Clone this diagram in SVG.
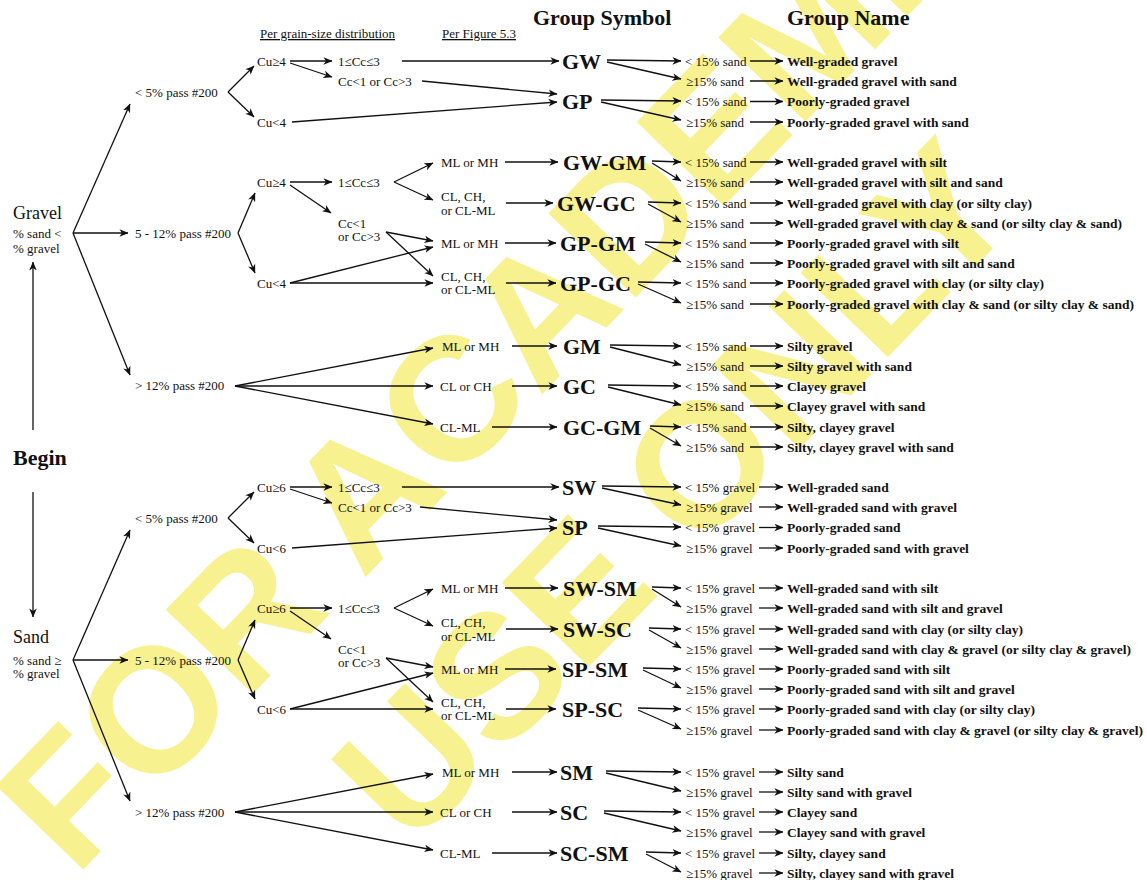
<svg xmlns="http://www.w3.org/2000/svg" width="1147" height="880" viewBox="0 0 1147 880">
  <defs>
    <marker id="ah" viewBox="0 0 10 10" refX="9.5" refY="5" markerWidth="9" markerHeight="9" markerUnits="userSpaceOnUse" orient="auto">
      <path d="M0,0.8 L10,5 L0,9.2 L2.8,5 z" fill="#111"/>
    </marker>
    <style>
      .t { font-family: "Liberation Serif", "Times New Roman", serif; font-size: 13px; fill: #111; }
      .u { text-decoration: underline; }
      .n { font-family: "Liberation Serif", "Times New Roman", serif; font-size: 13.5px; font-weight: bold; fill: #111; }
      .sym { font-family: "Liberation Serif", "Times New Roman", serif; font-size: 22px; font-weight: bold; fill: #111; }
      .hd { font-family: "Liberation Serif", "Times New Roman", serif; font-size: 22px; font-weight: bold; fill: #111; }
      .root { font-family: "Liberation Serif", "Times New Roman", serif; font-size: 18px; fill: #111; }
      .wm { font-family: "Liberation Sans", Arial, sans-serif; font-size: 176px; font-weight: bold; fill: #f8f190; }
      #connectors line { stroke: #111; stroke-width: 1.3; fill: none; marker-end: url(#ah); }
    </style>
  </defs>

  <rect width="1147" height="880" fill="#ffffff"/>

  <!-- watermark -->
  <g id="watermark">
    <text class="wm" transform="translate(75,878) rotate(-46)">FOR ACADEMIC</text>
    <text class="wm" transform="translate(411,851) rotate(-46)">USE ONLY</text>
  </g>

  <!-- column headers -->
  <g id="headers">
    <text class="t u" x="260" y="38">Per grain-size distribution</text>
    <text class="t u" x="442" y="38">Per Figure 5.3</text>
    <text class="hd" x="533" y="25">Group Symbol</text>
    <text class="hd" x="787" y="25">Group Name</text>
  </g>

  <!-- root and coarse fraction -->
  <g id="begin"><text class="hd" x="13" y="465">Begin</text></g>
  <g id="gravel">
    <text class="root" x="13" y="219">Gravel</text>
    <text class="t" x="13" y="237.5">% sand &lt;</text>
    <text class="t" x="13" y="252.5">% gravel</text>
  </g>
  <g id="sand">
    <text class="root" x="13" y="643">Sand</text>
    <text class="t" x="13" y="664.5">% sand ≥</text>
    <text class="t" x="13" y="677.5">% gravel</text>
  </g>

  <!-- fines content -->
  <g id="g-fines-lt5"><text class="t" x="135" y="96.5">&lt; 5% pass #200</text></g>
  <g id="g-fines-5-12"><text class="t" x="135" y="237.5">5 - 12% pass #200</text></g>
  <g id="g-fines-gt12"><text class="t" x="135" y="389.5">&gt; 12% pass #200</text></g>
  <g id="s-fines-lt5"><text class="t" x="135" y="522.5">&lt; 5% pass #200</text></g>
  <g id="s-fines-5-12"><text class="t" x="135" y="664.5">5 - 12% pass #200</text></g>
  <g id="s-fines-gt12"><text class="t" x="135" y="816.5">&gt; 12% pass #200</text></g>

  <!-- gradation: gravel -->
  <g id="g1-cu-hi"><text class="t" x="257" y="65.5">Cu≥4</text></g>
  <g id="g1-cu-lo"><text class="t" x="257" y="126.5">Cu&lt;4</text></g>
  <g id="g1-cc-ok"><text class="t" x="338" y="65.5">1≤Cc≤3</text></g>
  <g id="g1-cc-no"><text class="t" x="338" y="85.5">Cc&lt;1 or Cc&gt;3</text></g>
  <g id="g2-cu-hi"><text class="t" x="257" y="186.5">Cu≥4</text></g>
  <g id="g2-cu-lo"><text class="t" x="257" y="287.5">Cu&lt;4</text></g>
  <g id="g2-cc-ok"><text class="t" x="338" y="186.5">1≤Cc≤3</text></g>
  <g id="g2-cc-no"><text class="t" x="338" y="227.5">Cc&lt;1</text><text class="t" x="338" y="240.5">or Cc&gt;3</text></g>

  <!-- gradation: sand -->
  <g id="s1-cu-hi"><text class="t" x="257" y="491.5">Cu≥6</text></g>
  <g id="s1-cu-lo"><text class="t" x="257" y="552.5">Cu&lt;6</text></g>
  <g id="s1-cc-ok"><text class="t" x="338" y="491.5">1≤Cc≤3</text></g>
  <g id="s1-cc-no"><text class="t" x="338" y="511.5">Cc&lt;1 or Cc&gt;3</text></g>
  <g id="s2-cu-hi"><text class="t" x="257" y="612.5">Cu≥6</text></g>
  <g id="s2-cu-lo"><text class="t" x="257" y="713.5">Cu&lt;6</text></g>
  <g id="s2-cc-ok"><text class="t" x="338" y="612.5">1≤Cc≤3</text></g>
  <g id="s2-cc-no"><text class="t" x="338" y="653.5">Cc&lt;1</text><text class="t" x="338" y="666.5">or Cc&gt;3</text></g>

  <!-- plasticity of fines -->
  <g id="g2-ml-a"><text class="t" x="441" y="166.5">ML or MH</text></g>
  <g id="g2-cl-a"><text class="t" x="441" y="201">CL, CH,</text><text class="t" x="441" y="214.5">or CL-ML</text></g>
  <g id="g2-ml-b"><text class="t" x="441" y="247.5">ML or MH</text></g>
  <g id="g2-cl-b"><text class="t" x="441" y="280.5">CL, CH,</text><text class="t" x="441" y="294">or CL-ML</text></g>
  <g id="g3-ml"><text class="t" x="442" y="350.5">ML or MH</text></g>
  <g id="g3-cl"><text class="t" x="440" y="390.5">CL or CH</text></g>
  <g id="g3-clml"><text class="t" x="440" y="431.5">CL-ML</text></g>
  <g id="s2-ml-a"><text class="t" x="441" y="592.5">ML or MH</text></g>
  <g id="s2-cl-a"><text class="t" x="441" y="627">CL, CH,</text><text class="t" x="441" y="640.5">or CL-ML</text></g>
  <g id="s2-ml-b"><text class="t" x="441" y="673.5">ML or MH</text></g>
  <g id="s2-cl-b"><text class="t" x="441" y="706.5">CL, CH,</text><text class="t" x="441" y="720">or CL-ML</text></g>
  <g id="s3-ml"><text class="t" x="442" y="776.5">ML or MH</text></g>
  <g id="s3-cl"><text class="t" x="440" y="816.5">CL or CH</text></g>
  <g id="s3-clml"><text class="t" x="440" y="857.5">CL-ML</text></g>

  <!-- group symbols -->
  <g id="sym-GW"><text class="sym" x="562" y="68.5">GW</text></g>
  <g id="sym-GP"><text class="sym" x="562" y="108.5">GP</text></g>
  <g id="sym-GW-GM"><text class="sym" x="563" y="169.5">GW-GM</text></g>
  <g id="sym-GW-GC"><text class="sym" x="557" y="210.5">GW-GC</text></g>
  <g id="sym-GP-GM"><text class="sym" x="560" y="250.5">GP-GM</text></g>
  <g id="sym-GP-GC"><text class="sym" x="560" y="290.5">GP-GC</text></g>
  <g id="sym-GM"><text class="sym" x="563" y="353.5">GM</text></g>
  <g id="sym-GC"><text class="sym" x="563" y="393.5">GC</text></g>
  <g id="sym-GC-GM"><text class="sym" x="563" y="434.5">GC-GM</text></g>
  <g id="sym-SW"><text class="sym" x="562" y="494.5">SW</text></g>
  <g id="sym-SP"><text class="sym" x="562" y="534.5">SP</text></g>
  <g id="sym-SW-SM"><text class="sym" x="563" y="595.5">SW-SM</text></g>
  <g id="sym-SW-SC"><text class="sym" x="563" y="636.5">SW-SC</text></g>
  <g id="sym-SP-SM"><text class="sym" x="562" y="676.5">SP-SM</text></g>
  <g id="sym-SP-SC"><text class="sym" x="562" y="716.5">SP-SC</text></g>
  <g id="sym-SM"><text class="sym" x="560" y="779.5">SM</text></g>
  <g id="sym-SC"><text class="sym" x="560" y="819.5">SC</text></g>
  <g id="sym-SC-SM"><text class="sym" x="560" y="860.5">SC-SM</text></g>

  <!-- group names: gravel -->
  <g id="name-g01"><text class="t" x="685" y="65.5">&lt; 15% sand</text><text class="n" x="787" y="65.5">Well-graded gravel</text></g>
  <g id="name-g02"><text class="t" x="686" y="85.5">≥15% sand</text><text class="n" x="787" y="85.5">Well-graded gravel with sand</text></g>
  <g id="name-g03"><text class="t" x="685" y="106">&lt; 15% sand</text><text class="n" x="787" y="106">Poorly-graded gravel</text></g>
  <g id="name-g04"><text class="t" x="686" y="126.5">≥15% sand</text><text class="n" x="787" y="126.5">Poorly-graded gravel with sand</text></g>
  <g id="name-g05"><text class="t" x="685" y="166.5">&lt; 15% sand</text><text class="n" x="787" y="166.5">Well-graded gravel with silt</text></g>
  <g id="name-g06"><text class="t" x="686" y="186.5">≥15% sand</text><text class="n" x="787" y="186.5">Well-graded gravel with silt and sand</text></g>
  <g id="name-g07"><text class="t" x="685" y="207.5">&lt; 15% sand</text><text class="n" x="787" y="207.5">Well-graded gravel with clay (or silty clay)</text></g>
  <g id="name-g08"><text class="t" x="686" y="227.5">≥15% sand</text><text class="n" x="787" y="227.5">Well-graded gravel with clay &amp; sand (or silty clay &amp; sand)</text></g>
  <g id="name-g09"><text class="t" x="685" y="247.5">&lt; 15% sand</text><text class="n" x="787" y="247.5">Poorly-graded gravel with silt</text></g>
  <g id="name-g10"><text class="t" x="686" y="267.5">≥15% sand</text><text class="n" x="787" y="267.5">Poorly-graded gravel with silt and sand</text></g>
  <g id="name-g11"><text class="t" x="685" y="287.5">&lt; 15% sand</text><text class="n" x="787" y="287.5">Poorly-graded gravel with clay (or silty clay)</text></g>
  <g id="name-g12"><text class="t" x="686" y="308.5">≥15% sand</text><text class="n" x="787" y="308.5">Poorly-graded gravel with clay &amp; sand (or silty clay &amp; sand)</text></g>
  <g id="name-g13"><text class="t" x="685" y="350.5">&lt; 15% sand</text><text class="n" x="787" y="350.5">Silty gravel</text></g>
  <g id="name-g14"><text class="t" x="686" y="370.5">≥15% sand</text><text class="n" x="787" y="370.5">Silty gravel with sand</text></g>
  <g id="name-g15"><text class="t" x="685" y="390.5">&lt; 15% sand</text><text class="n" x="787" y="390.5">Clayey gravel</text></g>
  <g id="name-g16"><text class="t" x="686" y="410.5">≥15% sand</text><text class="n" x="787" y="410.5">Clayey gravel with sand</text></g>
  <g id="name-g17"><text class="t" x="685" y="431.5">&lt; 15% sand</text><text class="n" x="787" y="431.5">Silty, clayey gravel</text></g>
  <g id="name-g18"><text class="t" x="686" y="451.5">≥15% sand</text><text class="n" x="787" y="451.5">Silty, clayey gravel with sand</text></g>

  <!-- group names: sand -->
  <g id="name-s01"><text class="t" x="685" y="491.5">&lt; 15% gravel</text><text class="n" x="787" y="491.5">Well-graded sand</text></g>
  <g id="name-s02"><text class="t" x="686" y="511.5">≥15% gravel</text><text class="n" x="787" y="511.5">Well-graded sand with gravel</text></g>
  <g id="name-s03"><text class="t" x="685" y="532">&lt; 15% gravel</text><text class="n" x="787" y="532">Poorly-graded sand</text></g>
  <g id="name-s04"><text class="t" x="686" y="552.5">≥15% gravel</text><text class="n" x="787" y="552.5">Poorly-graded sand with gravel</text></g>
  <g id="name-s05"><text class="t" x="685" y="592.5">&lt; 15% gravel</text><text class="n" x="787" y="592.5">Well-graded sand with silt</text></g>
  <g id="name-s06"><text class="t" x="686" y="612.5">≥15% gravel</text><text class="n" x="787" y="612.5">Well-graded sand with silt and gravel</text></g>
  <g id="name-s07"><text class="t" x="685" y="633.5">&lt; 15% gravel</text><text class="n" x="787" y="633.5">Well-graded sand with clay (or silty clay)</text></g>
  <g id="name-s08"><text class="t" x="686" y="653.5">≥15% gravel</text><text class="n" x="787" y="653.5">Well-graded sand with clay &amp; gravel (or silty clay &amp; gravel)</text></g>
  <g id="name-s09"><text class="t" x="685" y="673.5">&lt; 15% gravel</text><text class="n" x="787" y="673.5">Poorly-graded sand with silt</text></g>
  <g id="name-s10"><text class="t" x="686" y="693.5">≥15% gravel</text><text class="n" x="787" y="693.5">Poorly-graded sand with silt and gravel</text></g>
  <g id="name-s11"><text class="t" x="685" y="713.5">&lt; 15% gravel</text><text class="n" x="787" y="713.5">Poorly-graded sand with clay (or silty clay)</text></g>
  <g id="name-s12"><text class="t" x="686" y="734.5">≥15% gravel</text><text class="n" x="787" y="734.5">Poorly-graded sand with clay &amp; gravel (or silty clay &amp; gravel)</text></g>
  <g id="name-s13"><text class="t" x="685" y="776.5">&lt; 15% gravel</text><text class="n" x="787" y="776.5">Silty sand</text></g>
  <g id="name-s14"><text class="t" x="686" y="796.5">≥15% gravel</text><text class="n" x="787" y="796.5">Silty sand with gravel</text></g>
  <g id="name-s15"><text class="t" x="685" y="816.5">&lt; 15% gravel</text><text class="n" x="787" y="816.5">Clayey sand</text></g>
  <g id="name-s16"><text class="t" x="686" y="836.5">≥15% gravel</text><text class="n" x="787" y="836.5">Clayey sand with gravel</text></g>
  <g id="name-s17"><text class="t" x="685" y="857.5">&lt; 15% gravel</text><text class="n" x="787" y="857.5">Silty, clayey sand</text></g>
  <g id="name-s18"><text class="t" x="686" y="877.5">≥15% gravel</text><text class="n" x="787" y="877.5">Silty, clayey sand with gravel</text></g>

  <g id="connectors">
    <!-- begin -->
    <line x1="33" y1="430" x2="33" y2="262"/>
    <line x1="33" y1="492" x2="33" y2="617"/>

    <!-- gravel root -->
    <line x1="73" y1="233" x2="130" y2="104"/>
    <line x1="73" y1="233" x2="128" y2="233"/>
    <line x1="73" y1="233" x2="130" y2="375"/>
    <!-- sand root -->
    <line x1="73" y1="660" x2="130" y2="530"/>
    <line x1="73" y1="660" x2="128" y2="660"/>
    <line x1="73" y1="660" x2="130" y2="801"/>

    <!-- gravel, < 5% fines -->
    <line x1="228" y1="92" x2="254" y2="66"/>
    <line x1="228" y1="92" x2="254" y2="117"/>
    <line x1="290" y1="61" x2="332" y2="61"/>
    <line x1="290" y1="63" x2="332" y2="77"/>
    <line x1="402" y1="61" x2="559" y2="61"/>
    <line x1="422" y1="81" x2="557" y2="94"/>
    <line x1="292" y1="122" x2="557" y2="102"/>
    <line x1="607" y1="60" x2="681" y2="61"/>
    <line x1="607" y1="62" x2="681" y2="79"/>
    <line x1="601" y1="100" x2="681" y2="101"/>
    <line x1="601" y1="102" x2="681" y2="120"/>

    <!-- gravel, 5 - 12% fines -->
    <line x1="238" y1="233" x2="255" y2="193"/>
    <line x1="238" y1="233" x2="255" y2="273"/>
    <line x1="290" y1="182" x2="332" y2="182"/>
    <line x1="290" y1="185" x2="331" y2="213"/>
    <line x1="394" y1="182" x2="433" y2="163"/>
    <line x1="394" y1="182" x2="433" y2="200"/>
    <line x1="386" y1="232" x2="433" y2="241"/>
    <line x1="386" y1="232" x2="433" y2="276"/>
    <line x1="290" y1="283" x2="433" y2="247"/>
    <line x1="290" y1="283" x2="433" y2="283"/>
    <line x1="505" y1="162" x2="558" y2="162"/>
    <line x1="506" y1="203" x2="553" y2="203"/>
    <line x1="505" y1="243" x2="556" y2="243"/>
    <line x1="506" y1="283" x2="556" y2="283"/>
    <line x1="652" y1="161" x2="681" y2="162"/>
    <line x1="652" y1="163" x2="681" y2="181"/>
    <line x1="648" y1="202" x2="681" y2="203"/>
    <line x1="648" y1="204" x2="681" y2="222"/>
    <line x1="645" y1="242" x2="681" y2="243"/>
    <line x1="645" y1="244" x2="681" y2="262"/>
    <line x1="638" y1="282" x2="681" y2="283"/>
    <line x1="638" y1="284" x2="681" y2="303"/>

    <!-- gravel, > 12% fines -->
    <line x1="235" y1="386" x2="433" y2="348"/>
    <line x1="235" y1="386" x2="433" y2="386"/>
    <line x1="235" y1="386" x2="433" y2="424"/>
    <line x1="512" y1="346" x2="557" y2="346"/>
    <line x1="512" y1="386" x2="557" y2="386"/>
    <line x1="492" y1="427" x2="557" y2="427"/>
    <line x1="610" y1="345" x2="681" y2="346"/>
    <line x1="610" y1="347" x2="681" y2="365"/>
    <line x1="608" y1="385" x2="681" y2="386"/>
    <line x1="608" y1="387" x2="681" y2="405"/>
    <line x1="650" y1="426" x2="681" y2="427"/>
    <line x1="650" y1="428" x2="681" y2="446"/>

    <!-- sand, < 5% fines -->
    <line x1="228" y1="518" x2="254" y2="492"/>
    <line x1="228" y1="518" x2="254" y2="543"/>
    <line x1="290" y1="487" x2="332" y2="487"/>
    <line x1="290" y1="489" x2="332" y2="503"/>
    <line x1="402" y1="487" x2="559" y2="487"/>
    <line x1="420" y1="507" x2="557" y2="520"/>
    <line x1="292" y1="548" x2="557" y2="528"/>
    <line x1="602" y1="486" x2="681" y2="487"/>
    <line x1="602" y1="488" x2="681" y2="505"/>
    <line x1="598" y1="526" x2="681" y2="527"/>
    <line x1="598" y1="528" x2="681" y2="546"/>

    <!-- sand, 5 - 12% fines -->
    <line x1="238" y1="660" x2="255" y2="620"/>
    <line x1="238" y1="660" x2="255" y2="699"/>
    <line x1="290" y1="608" x2="332" y2="608"/>
    <line x1="290" y1="611" x2="331" y2="639"/>
    <line x1="394" y1="608" x2="433" y2="589"/>
    <line x1="394" y1="608" x2="433" y2="626"/>
    <line x1="386" y1="658" x2="433" y2="667"/>
    <line x1="386" y1="658" x2="433" y2="702"/>
    <line x1="290" y1="709" x2="433" y2="673"/>
    <line x1="290" y1="709" x2="433" y2="709"/>
    <line x1="505" y1="588" x2="558" y2="588"/>
    <line x1="506" y1="629" x2="558" y2="629"/>
    <line x1="505" y1="669" x2="556" y2="669"/>
    <line x1="506" y1="709" x2="556" y2="709"/>
    <line x1="652" y1="587" x2="681" y2="588"/>
    <line x1="652" y1="589" x2="681" y2="607"/>
    <line x1="649" y1="628" x2="681" y2="629"/>
    <line x1="649" y1="630" x2="681" y2="648"/>
    <line x1="643" y1="668" x2="681" y2="669"/>
    <line x1="643" y1="670" x2="681" y2="688"/>
    <line x1="638" y1="708" x2="681" y2="709"/>
    <line x1="638" y1="710" x2="681" y2="729"/>

    <!-- sand, > 12% fines -->
    <line x1="235" y1="812" x2="433" y2="774"/>
    <line x1="235" y1="812" x2="433" y2="812"/>
    <line x1="235" y1="812" x2="433" y2="850"/>
    <line x1="512" y1="772" x2="557" y2="772"/>
    <line x1="512" y1="812" x2="557" y2="812"/>
    <line x1="492" y1="853" x2="557" y2="853"/>
    <line x1="606" y1="771" x2="681" y2="772"/>
    <line x1="606" y1="773" x2="681" y2="791"/>
    <line x1="604" y1="811" x2="681" y2="812"/>
    <line x1="604" y1="813" x2="681" y2="831"/>
    <line x1="646" y1="852" x2="681" y2="853"/>
    <line x1="646" y1="854" x2="681" y2="872"/>

    <!-- condition to group name: gravel -->
    <line x1="750" y1="61" x2="783" y2="61"/>
    <line x1="750" y1="81" x2="783" y2="81"/>
    <line x1="750" y1="101.5" x2="783" y2="101.5"/>
    <line x1="750" y1="122" x2="783" y2="122"/>
    <line x1="750" y1="162" x2="783" y2="162"/>
    <line x1="750" y1="182" x2="783" y2="182"/>
    <line x1="750" y1="203" x2="783" y2="203"/>
    <line x1="750" y1="223" x2="783" y2="223"/>
    <line x1="750" y1="243" x2="783" y2="243"/>
    <line x1="750" y1="263" x2="783" y2="263"/>
    <line x1="750" y1="283" x2="783" y2="283"/>
    <line x1="750" y1="304" x2="783" y2="304"/>
    <line x1="750" y1="346" x2="783" y2="346"/>
    <line x1="750" y1="366" x2="783" y2="366"/>
    <line x1="750" y1="386" x2="783" y2="386"/>
    <line x1="750" y1="406" x2="783" y2="406"/>
    <line x1="750" y1="427" x2="783" y2="427"/>
    <line x1="750" y1="447" x2="783" y2="447"/>

    <!-- condition to group name: sand -->
    <line x1="759" y1="487" x2="783" y2="487"/>
    <line x1="759" y1="507" x2="783" y2="507"/>
    <line x1="759" y1="527.5" x2="783" y2="527.5"/>
    <line x1="759" y1="548" x2="783" y2="548"/>
    <line x1="759" y1="588" x2="783" y2="588"/>
    <line x1="759" y1="608" x2="783" y2="608"/>
    <line x1="759" y1="629" x2="783" y2="629"/>
    <line x1="759" y1="649" x2="783" y2="649"/>
    <line x1="759" y1="669" x2="783" y2="669"/>
    <line x1="759" y1="689" x2="783" y2="689"/>
    <line x1="759" y1="709" x2="783" y2="709"/>
    <line x1="759" y1="730" x2="783" y2="730"/>
    <line x1="759" y1="772" x2="783" y2="772"/>
    <line x1="759" y1="792" x2="783" y2="792"/>
    <line x1="759" y1="812" x2="783" y2="812"/>
    <line x1="759" y1="832" x2="783" y2="832"/>
    <line x1="759" y1="853" x2="783" y2="853"/>
    <line x1="759" y1="873" x2="783" y2="873"/>
  </g>
</svg>
